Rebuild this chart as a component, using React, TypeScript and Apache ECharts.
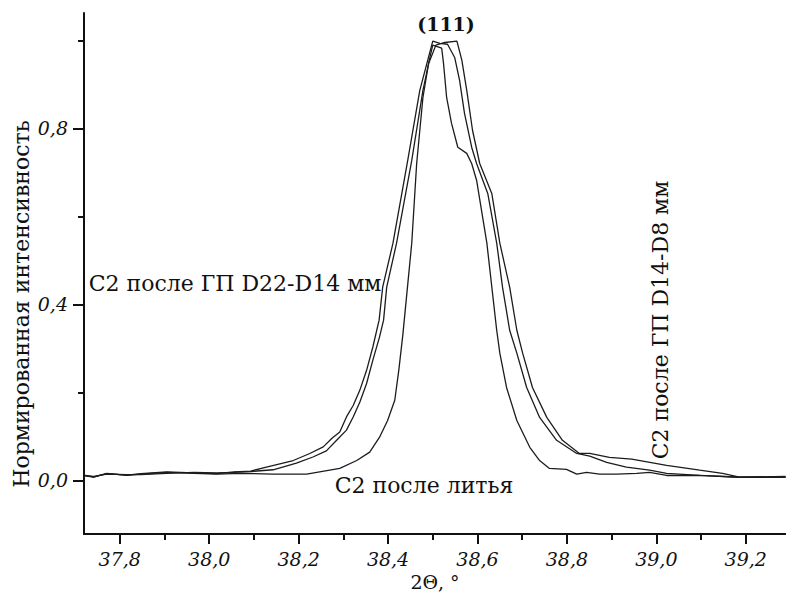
import React, { useEffect, useRef } from "react";
import * as echarts from "echarts";

// Tick labels
const xMajorTicks = [37.8, 38.0, 38.2, 38.4, 38.6, 38.8, 39.0, 39.2];
const xMinorTicks = [37.9, 38.1, 38.3, 38.5, 38.7, 38.9, 39.1];
const yMajorTicks = [0.0, 0.4, 0.8];
const yMinorTicks = [0.2, 0.6, 1.0];

// C2 после литья (cast)
const castData: [number, number][] = [
  [37.72, 0.011], [37.742, 0.007], [37.771, 0.016], [37.816, 0.011], [37.847, 0.014],
  [37.905, 0.018], [37.966, 0.016], [38.017, 0.014], [38.069, 0.016], [38.142, 0.014],
  [38.218, 0.014], [38.292, 0.027], [38.33, 0.045], [38.359, 0.064], [38.381, 0.098],
  [38.399, 0.136], [38.415, 0.182], [38.424, 0.25], [38.433, 0.33], [38.453, 0.539],
  [38.464, 0.72], [38.478, 0.87], [38.491, 0.95], [38.5, 0.989], [38.52, 0.982],
  [38.524, 0.948], [38.531, 0.87], [38.542, 0.811], [38.556, 0.757], [38.576, 0.743],
  [38.587, 0.72], [38.598, 0.682], [38.621, 0.539], [38.643, 0.341], [38.65, 0.289],
  [38.665, 0.211], [38.688, 0.136], [38.717, 0.075], [38.739, 0.045], [38.761, 0.027],
  [38.799, 0.025], [38.822, 0.014], [38.844, 0.018], [38.873, 0.014], [38.911, 0.014],
  [38.956, 0.016], [38.985, 0.018], [39.023, 0.011], [39.097, 0.011], [39.186, 0.007],
  [39.289, 0.007],
];

// C2 после ГП D22-D14 мм
const d22Data: [number, number][] = [
  [37.72, 0.012], [37.742, 0.008], [37.771, 0.015], [37.816, 0.012], [37.847, 0.015],
  [37.905, 0.019], [37.966, 0.017], [38.017, 0.015], [38.055, 0.019], [38.093, 0.021],
  [38.128, 0.03], [38.188, 0.045], [38.225, 0.061], [38.255, 0.076], [38.274, 0.095],
  [38.292, 0.11], [38.307, 0.144], [38.322, 0.17], [38.337, 0.205], [38.352, 0.25],
  [38.366, 0.303], [38.38, 0.364], [38.388, 0.439], [38.411, 0.539], [38.444, 0.727],
  [38.471, 0.886], [38.487, 0.948], [38.5, 0.998], [38.516, 0.993], [38.533, 0.991],
  [38.549, 0.961], [38.56, 0.909], [38.571, 0.834], [38.587, 0.757], [38.598, 0.72],
  [38.623, 0.652], [38.643, 0.539], [38.656, 0.439], [38.672, 0.341], [38.688, 0.289],
  [38.71, 0.211], [38.739, 0.143], [38.777, 0.091], [38.822, 0.061], [38.851, 0.055],
  [38.889, 0.041], [38.933, 0.03], [38.985, 0.023], [39.023, 0.016], [39.097, 0.011],
  [39.186, 0.007], [39.289, 0.009],
];

// C2 после ГП D14-D8 мм
const d14Data: [number, number][] = [
  [37.72, 0.01], [37.742, 0.009], [37.771, 0.014], [37.816, 0.013], [37.847, 0.013],
  [37.905, 0.016], [37.966, 0.018], [38.017, 0.017], [38.055, 0.018], [38.093, 0.02],
  [38.143, 0.024], [38.195, 0.039], [38.232, 0.053], [38.262, 0.067], [38.285, 0.091],
  [38.307, 0.114], [38.322, 0.144], [38.337, 0.178], [38.352, 0.22], [38.366, 0.273],
  [38.381, 0.326], [38.39, 0.364], [38.397, 0.439], [38.419, 0.539], [38.453, 0.727],
  [38.478, 0.886], [38.491, 0.948], [38.507, 0.989], [38.527, 0.995], [38.554, 0.998],
  [38.565, 0.955], [38.576, 0.886], [38.589, 0.795], [38.605, 0.72], [38.632, 0.652],
  [38.65, 0.539], [38.672, 0.439], [38.688, 0.341], [38.701, 0.289], [38.723, 0.211],
  [38.755, 0.143], [38.79, 0.091], [38.828, 0.061], [38.851, 0.061], [38.895, 0.052],
  [38.945, 0.048], [39.023, 0.034], [39.097, 0.023], [39.148, 0.016], [39.186, 0.007],
  [39.289, 0.007],
];

const FONT = "DejaVu Serif";
const INK = "#111";

export default function App() {
  const ref = useRef<HTMLDivElement>(null);
  useEffect(() => {
    document.body.style.margin = "0";
    if (!ref.current) return;
    const chart = echarts.init(ref.current, undefined, { renderer: "svg" });
    const lineSeries = (name: string, data: [number, number][]) => ({
      name,
      type: "line",
      data,
      symbol: "none",
      xAxisIndex: 0,
      yAxisIndex: 0,
      lineStyle: { color: "#1c1c1c", width: 1.3 },
      z: 3,
    });
    chart.setOption({
      animation: false,
      backgroundColor: "#fff",
      grid: { left: 84, right: 0, top: 13, bottom: 58, containLabel: false, outerBoundsMode: "none" },
      xAxis: [
        {
          type: "value",
          min: 37.72,
          max: 39.29,
          position: "bottom",
          axisLine: { show: true, onZero: false, lineStyle: { color: INK, width: 2 } },
          axisTick: { show: true, length: 10, customValues: xMajorTicks, lineStyle: { color: INK, width: 2 } },
          axisLabel: {
            customValues: xMajorTicks,
            formatter: (v: number) => v.toFixed(1).replace(".", ","),
            fontFamily: FONT,
            fontStyle: "italic",
            fontSize: 19,
            color: INK,
            margin: 15,
          },
          splitLine: { show: false },
          name: "2Θ, °",
          nameLocation: "middle",
          nameGap: 37,
          nameTextStyle: { fontFamily: FONT, fontSize: 19, color: INK },
        },
        {
          type: "value",
          min: 37.72,
          max: 39.29,
          position: "bottom",
          axisLine: { show: false, onZero: false },
          axisTick: { show: true, length: 6, customValues: xMinorTicks, lineStyle: { color: INK, width: 2 } },
          axisLabel: { show: false },
          splitLine: { show: false },
        },
      ],
      yAxis: [
        {
          type: "value",
          min: -0.122,
          max: 1.062,
          position: "left",
          axisLine: { show: true, onZero: false, lineStyle: { color: INK, width: 2 } },
          axisTick: { show: true, length: 11, customValues: yMajorTicks, lineStyle: { color: INK, width: 2 } },
          axisLabel: {
            customValues: yMajorTicks,
            formatter: (v: number) => v.toFixed(1).replace(".", ","),
            fontFamily: FONT,
            fontStyle: "italic",
            fontSize: 19,
            color: INK,
            margin: 16,
          },
          splitLine: { show: false },
        },
        {
          type: "value",
          min: -0.122,
          max: 1.062,
          position: "left",
          axisLine: { show: false, onZero: false },
          axisTick: { show: true, length: 6, customValues: yMinorTicks, lineStyle: { color: INK, width: 2 } },
          axisLabel: { show: false },
          splitLine: { show: false },
        },
      ],
      series: [
        lineSeries("С2 после литья", castData),
        lineSeries("С2 после ГП D22-D14 мм", d22Data),
        lineSeries("С2 после ГП D14-D8 мм", d14Data),
      ],
      graphic: [
        {
          type: "text",
          x: 21,
          y: 304,
          rotation: Math.PI / 2,
          style: {
            text: "Нормированная интенсивность",
            fontFamily: FONT,
            fontSize: 22,
            fill: INK,
            align: "center",
            verticalAlign: "middle",
          },
        },
        {
          type: "text",
          x: 446,
          y: 24,
          style: {
            text: "(111)",
            fontFamily: FONT,
            fontSize: 19,
            fontWeight: "bold",
            fill: INK,
            align: "center",
            verticalAlign: "middle",
          },
        },
        {
          type: "text",
          x: 235,
          y: 283,
          style: {
            text: "С2 после ГП D22-D14 мм",
            fontFamily: FONT,
            fontSize: 22,
            fill: INK,
            align: "center",
            verticalAlign: "middle",
          },
        },
        {
          type: "text",
          x: 424,
          y: 485,
          style: {
            text: "С2 после литья",
            fontFamily: FONT,
            fontSize: 22,
            fill: INK,
            align: "center",
            verticalAlign: "middle",
          },
        },
        {
          type: "text",
          x: 660,
          y: 320,
          rotation: Math.PI / 2,
          style: {
            text: "С2 после ГП D14-D8 мм",
            fontFamily: FONT,
            fontSize: 22,
            fill: INK,
            align: "center",
            verticalAlign: "middle",
          },
        },
      ],
    });
    return () => chart.dispose();
  }, []);
  return <div ref={ref} style={{ width: 786, height: 592 }} />;
}
